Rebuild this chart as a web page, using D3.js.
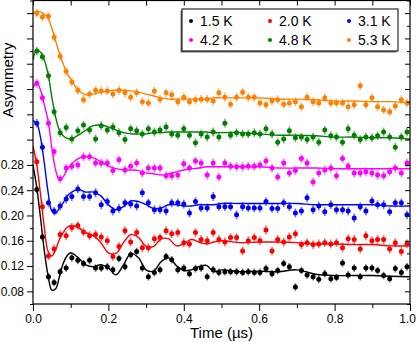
<!DOCTYPE html>
<html>
<head>
<meta charset="utf-8">
<script src="https://cdnjs.cloudflare.com/ajax/libs/d3/7.8.5/d3.min.js"></script>
<style>
body{margin:0;background:#fff;}
svg{display:block;font-family:"Liberation Sans",Arial,sans-serif;}
</style>
</head>
<body>
<script>
// time bins of the measured points (µs)
var times = [0.010,0.025,0.041,0.056,0.072,0.088,0.103,0.119,0.134,0.150,0.166,0.181,0.197,0.212,0.228,0.244,
  0.259,0.275,0.290,0.306,0.322,0.337,0.353,0.368,0.384,0.400,0.415,0.431,0.446,0.462,0.478,0.493,
  0.509,0.524,0.540,0.556,0.571,0.587,0.602,0.618,0.634,0.649,0.665,0.680,0.696,0.712,0.727,0.743,
  0.758,0.774,0.790,0.805,0.821,0.836,0.852,0.868,0.883,0.899,0.914,0.930,0.946,0.961,0.977,0.992];

// measured asymmetry, one list per temperature (offset curves)
var asy1p5K = [0.241,0.166,0.103,0.094,0.111,0.117,0.133,0.129,0.124,0.129,0.117,0.117,0.119,0.114,0.132,0.119,
  0.138,0.143,0.117,0.103,0.110,0.114,0.135,0.130,0.114,0.117,0.108,0.116,0.117,0.103,0.114,0.110,
  0.111,0.111,0.111,0.110,0.111,0.110,0.110,0.116,0.108,0.113,0.124,0.119,0.087,0.113,0.106,0.103,
  0.099,0.108,0.100,0.102,0.125,0.106,0.117,0.103,0.117,0.117,0.113,0.105,0.100,0.116,0.110,0.119];
var asy2p0K = [0.285,0.214,0.136,0.147,0.170,0.168,0.181,0.184,0.174,0.168,0.170,0.166,0.160,0.135,0.151,0.176,
  0.158,0.173,0.149,0.149,0.163,0.165,0.176,0.171,0.173,0.157,0.155,0.173,0.162,0.160,0.173,0.162,
  0.158,0.165,0.165,0.144,0.160,0.165,0.160,0.177,0.144,0.162,0.158,0.166,0.171,0.154,0.157,0.154,
  0.155,0.157,0.155,0.157,0.149,0.163,0.162,0.147,0.168,0.160,0.162,0.162,0.147,0.157,0.143,0.155];
var asy3p1K = [0.346,0.308,0.220,0.207,0.215,0.226,0.230,0.242,0.230,0.230,0.236,0.217,0.222,0.207,0.211,0.220,
  0.218,0.215,0.236,0.220,0.209,0.209,0.207,0.220,0.220,0.218,0.204,0.222,0.212,0.212,0.230,0.214,
  0.214,0.214,0.201,0.214,0.212,0.212,0.212,0.222,0.211,0.211,0.220,0.214,0.204,0.207,0.228,0.209,
  0.215,0.206,0.217,0.209,0.209,0.207,0.196,0.214,0.207,0.223,0.217,0.217,0.206,0.220,0.220,0.201];
var asy4p2K = [0.409,0.386,0.346,0.301,0.258,0.275,0.278,0.280,0.293,0.293,0.283,0.283,0.283,0.271,0.288,0.272,
  0.278,0.283,0.267,0.275,0.275,0.275,0.263,0.263,0.264,0.282,0.275,0.286,0.283,0.264,0.283,0.261,
  0.283,0.278,0.277,0.277,0.278,0.278,0.280,0.286,0.275,0.261,0.283,0.267,0.271,0.290,0.283,0.253,
  0.267,0.272,0.275,0.263,0.290,0.278,0.267,0.267,0.269,0.267,0.264,0.263,0.269,0.275,0.267,0.283];
var asy4p8K = [0.460,0.451,0.421,0.364,0.331,0.339,0.321,0.334,0.343,0.335,0.321,0.342,0.335,0.340,0.331,0.320,
  0.337,0.334,0.329,0.337,0.332,0.335,0.340,0.329,0.327,0.337,0.327,0.315,0.329,0.324,0.332,0.324,
  0.346,0.327,0.331,0.329,0.329,0.331,0.329,0.337,0.329,0.316,0.321,0.334,0.323,0.324,0.320,0.324,
  0.316,0.335,0.326,0.324,0.316,0.337,0.327,0.320,0.324,0.323,0.326,0.332,0.324,0.308,0.324,0.332];
var asy5p3K = [0.520,0.514,0.515,0.482,0.452,0.428,0.411,0.398,0.383,0.392,0.398,0.397,0.397,0.392,0.398,0.394,
  0.387,0.394,0.380,0.378,0.397,0.384,0.394,0.391,0.380,0.387,0.380,0.383,0.384,0.384,0.381,0.394,
  0.387,0.376,0.387,0.395,0.387,0.387,0.378,0.375,0.381,0.383,0.376,0.378,0.380,0.372,0.387,0.380,
  0.378,0.386,0.378,0.378,0.378,0.372,0.375,0.405,0.375,0.386,0.372,0.367,0.364,0.373,0.383,0.378];

// error bar half-height per series
var errBar = [0.006,0.007,0.007,0.007,0.007,0.007];

// fitted curves, read at these times
var fitTimes = [0,0.01,0.02,0.03,0.04,0.05,0.06,0.07,0.08,0.09,0.10,
  0.12,0.14,0.16,0.18,0.20,0.22,0.24,0.26,0.28,0.30,0.32,0.34,0.36,0.38,0.40,0.42,0.44,0.46,0.48,0.50,
  0.55,0.60,0.65,0.70,0.75,0.80,0.85,0.90,0.95,1.00];
var fit1p5K = [0.280,0.244,0.196,0.144,0.105,0.082,0.084,0.103,0.124,0.136,0.141,
  0.133,0.122,0.119,0.122,0.117,0.106,0.122,0.140,0.133,0.114,0.112,0.127,0.133,0.121,0.113,0.114,0.119,0.121,0.111,0.114,
  0.111,0.112,0.111,0.114,0.107,0.105,0.105,0.105,0.104,0.103];
var fit2p0K = [0.310,0.280,0.233,0.181,0.143,0.136,0.146,0.162,0.173,0.181,0.184,
  0.181,0.173,0.168,0.157,0.141,0.140,0.157,0.170,0.165,0.151,0.151,0.163,0.163,0.152,0.155,0.162,0.158,0.155,0.158,0.160,
  0.157,0.158,0.158,0.157,0.155,0.155,0.154,0.154,0.152,0.152];
var fit3p1K = [0.350,0.346,0.323,0.283,0.237,0.207,0.203,0.212,0.220,0.230,0.236,
  0.241,0.237,0.237,0.231,0.217,0.209,0.214,0.223,0.222,0.217,0.211,0.212,0.217,0.217,0.215,0.215,0.217,0.217,0.217,0.219,
  0.219,0.219,0.219,0.219,0.217,0.217,0.217,0.217,0.215,0.215];
var fit4p2K = [0.402,0.410,0.398,0.375,0.350,0.307,0.272,0.256,0.261,0.272,0.280,
  0.290,0.293,0.291,0.285,0.278,0.274,0.272,0.272,0.271,0.267,0.266,0.264,0.266,0.269,0.272,0.274,0.275,0.277,0.277,0.277,
  0.277,0.277,0.275,0.275,0.275,0.274,0.274,0.274,0.274,0.274];
var fit4p8K = [0.446,0.462,0.458,0.446,0.424,0.387,0.356,0.335,0.326,0.322,0.321,
  0.327,0.335,0.342,0.343,0.340,0.335,0.331,0.329,0.329,0.329,0.331,0.331,0.332,0.332,0.332,0.332,0.332,0.332,0.331,0.331,
  0.331,0.329,0.327,0.327,0.326,0.324,0.324,0.323,0.323,0.321];
var fit5p3K = [0.520,0.523,0.522,0.518,0.512,0.496,0.476,0.457,0.440,0.425,0.416,
  0.398,0.391,0.392,0.395,0.397,0.398,0.398,0.397,0.395,0.392,0.389,0.386,0.384,0.384,0.384,0.384,0.384,0.384,0.386,0.386,
  0.386,0.386,0.384,0.384,0.383,0.381,0.381,0.380,0.380,0.378];

var labels = ["1.5 K","2.0 K","3.1 K","4.2 K","4.8 K","5.3 K"];
var colors = ["#000000","#ff0000","#0000ff","#ff00ff","#008000","#ff8000"];

// axis ticks
var xTicks = [0,0.2,0.4,0.6,0.8,1.0];
var xTickLabels = ["0.0","0.2","0.4","0.6","0.8","1.0"];
var xMinorTicks = [0.1,0.3,0.5,0.7,0.9];
var yTicks = [0.08,0.12,0.16,0.20,0.24,0.28,0.32,0.36,0.40,0.44,0.48,0.52];
var yTickLabels = ["0.08","0.12","0.16","0.20","0.24","0.28","","","","","",""];
var yMinorTicks = [0.06,0.10,0.14,0.18,0.22,0.26,0.30,0.34,0.38,0.42,0.46,0.50,0.54];

var allData = [asy1p5K,asy2p0K,asy3p1K,asy4p2K,asy4p8K,asy5p3K];
var allFits = [fit1p5K,fit2p0K,fit3p1K,fit4p2K,fit4p8K,fit5p3K];

var svgWidth = 416, svgHeight = 342;
var margin = {top:0.5, right:6, bottom:38, left:33};
var chartWidth = svgWidth - margin.left - margin.right;
var chartHeight = 304 - margin.top;

var svg = d3.select("body").append("svg")
  .attr("width", svgWidth)
  .attr("height", svgHeight);

var chartGroup = svg.append("g")
  .attr("transform", `translate(${margin.left}, ${margin.top})`);

var xScale = d3.scaleLinear().domain([0, 1]).range([0, chartWidth]);
var yScale = d3.scaleLinear().domain([0.06, 0.54]).range([chartHeight, 0]);

// clip so the curves stay inside the frame
chartGroup.append("clipPath").attr("id", "clip")
  .append("rect").attr("width", chartWidth).attr("height", chartHeight);

var plot = chartGroup.append("g").attr("clip-path", "url(#clip)");

var drawLine = d3.line()
  .x((d, i) => xScale(fitTimes[i]))
  .y(d => yScale(d))
  .curve(d3.curveCatmullRom.alpha(0.5));

allData.forEach(function(series, k) {
  var g = plot.append("g");
  // error bars
  g.selectAll("line.err").data(series).enter().append("line")
    .attr("x1", (d, i) => xScale(times[i]))
    .attr("x2", (d, i) => xScale(times[i]))
    .attr("y1", d => yScale(d - errBar[k]))
    .attr("y2", d => yScale(d + errBar[k]))
    .attr("stroke", colors[k])
    .attr("stroke-opacity", 0.55)
    .attr("stroke-width", 1.6);
  g.selectAll("circle").data(series).enter().append("circle")
    .attr("cx", (d, i) => xScale(times[i]))
    .attr("cy", d => yScale(d))
    .attr("r", 2.5)
    .attr("fill", colors[k]);
});

allFits.forEach(function(fit, k) {
  plot.append("path")
    .attr("d", drawLine(fit))
    .attr("fill", "none")
    .attr("stroke", colors[k])
    .attr("stroke-width", 1.4);
});

// axes
function styleAxis(g) {
  g.select(".domain").remove();
  g.selectAll("line").attr("stroke", "#000").attr("stroke-width", 1);
  g.selectAll("text").attr("font-size", 12).attr("fill", "#000")
    .attr("font-family", '"Liberation Sans", Arial, sans-serif');
}

var xAxisG = chartGroup.append("g")
  .attr("transform", `translate(0, ${chartHeight})`)
  .call(d3.axisBottom(xScale).tickValues(xTicks).tickSize(7).tickPadding(3)
    .tickFormat((d, i) => xTickLabels[i]))
  .call(styleAxis);
// keep the last label inside the page
xAxisG.selectAll(".tick text").filter(d => d === 1).attr("dx", -3);

chartGroup.append("g")
  .attr("transform", `translate(0, ${chartHeight})`)
  .call(d3.axisBottom(xScale).tickValues(xMinorTicks).tickSize(4).tickFormat(""))
  .call(styleAxis);
chartGroup.append("g")
  .call(d3.axisTop(xScale).tickValues(xTicks.concat(xMinorTicks)).tickSize(-5).tickFormat(""))
  .call(styleAxis);

chartGroup.append("g")
  .call(d3.axisLeft(yScale).tickValues(yTicks).tickSize(6).tickPadding(3)
    .tickFormat((d, i) => yTickLabels[i]))
  .call(styleAxis);
chartGroup.append("g")
  .call(d3.axisLeft(yScale).tickValues(yMinorTicks).tickSize(3).tickFormat(""))
  .call(styleAxis);
chartGroup.append("g")
  .attr("transform", `translate(${chartWidth}, 0)`)
  .call(d3.axisRight(yScale).tickValues(yTicks).tickSize(-5).tickFormat(""))
  .call(styleAxis);
chartGroup.append("g")
  .attr("transform", `translate(${chartWidth}, 0)`)
  .call(d3.axisRight(yScale).tickValues(yMinorTicks).tickSize(-3).tickFormat(""))
  .call(styleAxis);

// frame
chartGroup.append("rect")
  .attr("width", chartWidth).attr("height", chartHeight)
  .attr("fill", "none").attr("stroke", "#000").attr("stroke-width", 1.2);

// axis titles
svg.append("text")
  .attr("x", margin.left + xScale(0.5)).attr("y", 338)
  .attr("text-anchor", "middle").attr("font-size", 15)
  .text("Time (µs)");
svg.append("text")
  .attr("transform", "translate(12.5, 80) rotate(-90)")
  .attr("text-anchor", "middle").attr("font-size", 15)
  .text("Asymmetry");

// legend
var legend = svg.append("g").attr("transform", "translate(182, 9)");
legend.append("rect").attr("x", -1.5).attr("y", 1.5).attr("width", 216).attr("height", 42).attr("fill", "#777");
legend.append("rect").attr("width", 216).attr("height", 42)
  .attr("fill", "#fff").attr("stroke", "#000").attr("stroke-width", 1);
labels.forEach(function(lab, i) {
  var col = i % 3, row = Math.floor(i / 3);
  var cx = 9 + col * 79, cy = 12 + row * 19;
  legend.append("circle").attr("cx", cx).attr("cy", cy).attr("r", 2).attr("fill", colors[i]);
  legend.append("text").attr("x", cx + 9).attr("y", cy + 5)
    .attr("font-size", 14).text(lab);
});
</script>
</body>
</html>
